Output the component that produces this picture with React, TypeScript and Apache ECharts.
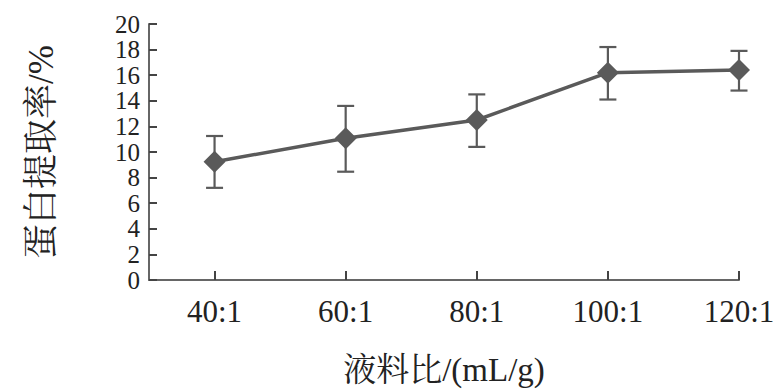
import React, { useEffect, useRef } from "react";
import * as echarts from "echarts";

const ratios = [40, 60, 80, 100, 120];
const extractionRate = [9.24, 11.07, 12.5, 16.2, 16.4];
const errLow = [7.2, 8.46, 10.4, 14.1, 14.8];
const errHigh = [11.25, 13.6, 14.5, 18.2, 17.9];

const FONT = "Liberation Serif, 'Noto Serif CJK SC', 'Noto Sans CJK SC', serif";
const GRAY = "#5a5a5a";

export default function App() {
  const ref = useRef<HTMLDivElement>(null);
  useEffect(() => {
    if (!ref.current) return;
    const chart = echarts.init(ref.current, null, { renderer: "svg" });
    chart.setOption({
      animation: false,
      backgroundColor: "#ffffff",
      grid: { left: 149, right: 42, top: 24, bottom: 112 },
      xAxis: {
        type: "value",
        min: 30,
        max: 120,
        name: "液料比/(mL/g)",
        nameLocation: "middle",
        nameGap: 73,
        nameTextStyle: { fontFamily: FONT, fontSize: 33, color: "#222" },
        splitLine: { show: false },
        axisLine: { show: true, lineStyle: { color: "#666", width: 2 } },
        axisTick: {
          show: true,
          inside: true,
          length: 9,
          customValues: ratios,
          lineStyle: { color: "#444", width: 2 },
        },
        axisLabel: {
          customValues: ratios,
          formatter: (v: number) => `${v}:1`,
          fontFamily: FONT,
          fontSize: 31,
          color: "#222",
          margin: 16,
        },
      },
      yAxis: {
        type: "value",
        min: 0,
        max: 20,
        interval: 2,
        name: "蛋白提取率/%",
        nameLocation: "middle",
        nameGap: 90,
        nameRotate: 90,
        nameTextStyle: { fontFamily: FONT, fontSize: 35, color: "#222" },
        splitLine: { show: false },
        axisLine: { show: true, lineStyle: { color: "#666", width: 2 } },
        axisTick: { show: true, inside: true, length: 8, lineStyle: { color: "#444", width: 2 } },
        axisLabel: {
          showMinLabel: true,
          showMaxLabel: true,
          hideOverlap: false,
          fontFamily: FONT,
          fontSize: 25,
          color: "#222",
          margin: 9,
        },
      },
      series: [
        {
          type: "custom",
          data: ratios.map((r, i) => [r, errLow[i], errHigh[i]]),
          renderItem: (params: any, api: any) => {
            const x = api.value(0);
            const lo = api.coord([x, api.value(1)]);
            const hi = api.coord([x, api.value(2)]);
            const hw = 8.5;
            const style = { stroke: GRAY, lineWidth: 2.2 };
            return {
              type: "group",
              children: [
                { type: "line", shape: { x1: lo[0], y1: lo[1], x2: hi[0], y2: hi[1] }, style },
                { type: "line", shape: { x1: hi[0] - hw, y1: hi[1], x2: hi[0] + hw, y2: hi[1] }, style },
                { type: "line", shape: { x1: lo[0] - hw, y1: lo[1], x2: lo[0] + hw, y2: lo[1] }, style },
              ],
            };
          },
          z: 2,
        },
        {
          type: "line",
          data: ratios.map((r, i) => [r, extractionRate[i]]),
          symbol: "diamond",
          symbolSize: [22, 22],
          lineStyle: { color: GRAY, width: 3.5 },
          itemStyle: { color: GRAY },
          z: 3,
        },
      ],
    });
    return () => chart.dispose();
  }, []);
  return <div ref={ref} style={{ width: 781, height: 392, position: "absolute", left: 0, top: 0 }} />;
}
